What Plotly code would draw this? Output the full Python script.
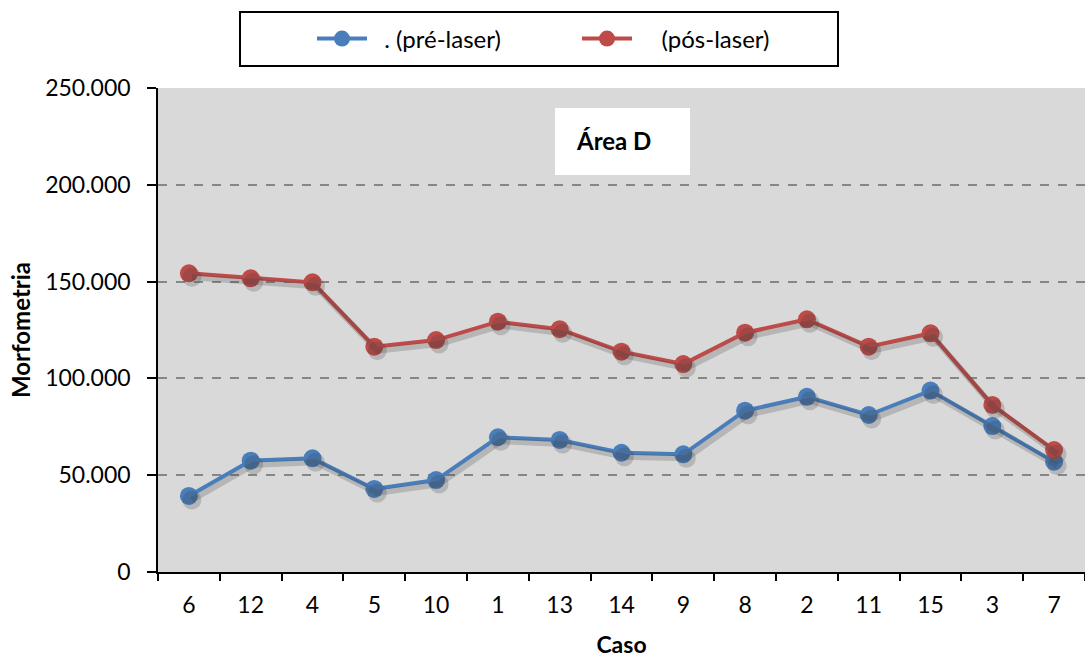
import plotly.graph_objects as go

# Casos em ordem de exibição
casos = ["6", "12", "4", "5", "10", "1", "13", "14", "9", "8", "2", "11", "15", "3", "7"]

# Morfometria da área D antes e depois do laser
pre_laser = [39300, 57500, 58700, 42900, 47500, 69600, 68200, 61600, 60800,
             83300, 90500, 81100, 93700, 75400, 57000]
pos_laser = [154300, 151700, 149600, 116400, 119800, 129300, 125400, 113800, 107400,
             123600, 130500, 116400, 123300, 86300, 63000]

nome_pre = "\u00a0\u00a0. (pré-laser)"
nome_pos = "\u00a0\u00a0\u00a0\u00a0(pós-laser)"

AZUL = "#4a7ebb"
VERMELHO = "#be4b48"
FONTE = "Lato, 'Open Sans', sans-serif"

W, H = 1085, 658
L, R, T, B = 158, 0, 88, 86
pw = W - L - R
ph = H - T - B
Y_MAX = 250000


def px_x(p):
    return (p - L) / pw


def px_y(p):
    return (H - B - p) / ph


fig = go.Figure()

# Sombra suave das séries: mesmo dado num eixo sobreposto com faixa deslocada
dx, dy = 3, 4
sx = dx * len(casos) / pw
sy = dy * Y_MAX / ph
for vals in (pre_laser, pos_laser):
    fig.add_trace(go.Scatter(
        x=casos, y=vals, mode="lines+markers", xaxis="x2", yaxis="y2",
        line=dict(color="rgba(60,60,60,0.22)", width=6),
        marker=dict(size=19, color="rgba(60,60,60,0.22)"),
        showlegend=False, hoverinfo="skip",
    ))

fig.add_trace(go.Scatter(
    x=casos, y=pre_laser, name=nome_pre, mode="lines+markers",
    line=dict(color=AZUL, width=4), marker=dict(size=18, color=AZUL),
))
fig.add_trace(go.Scatter(
    x=casos, y=pos_laser, name=nome_pos, mode="lines+markers",
    line=dict(color=VERMELHO, width=4), marker=dict(size=18, color=VERMELHO),
))

fig.update_layout(
    width=W, height=H,
    margin=dict(l=L, r=R, t=T, b=B),
    paper_bgcolor="white",
    plot_bgcolor="#d9d9d9",
    separators=",.",
    font=dict(family=FONTE, size=23, color="black"),
    showlegend=True,
    legend=dict(
        orientation="h",
        x=px_x(312), y=px_y(39), xanchor="left", yanchor="middle",
        bgcolor="rgba(0,0,0,0)", borderwidth=0,
        font=dict(family=FONTE, size=24),
        entrywidth=200, entrywidthmode="pixels",
        itemwidth=50,
    ),
    xaxis=dict(
        type="category", range=[-0.5, 14.5],
        showline=True, linecolor="black", linewidth=1.5,
        ticks="outside", tickson="boundaries", ticklen=7, tickcolor="black", tickwidth=1.5,
        ticklabelstandoff=12,
        showgrid=False, tickfont=dict(size=23),
        title=dict(text="<b>Caso</b>", font=dict(size=23), standoff=22),
    ),
    yaxis=dict(
        range=[0, Y_MAX], tickvals=[0, 50000, 100000, 150000, 200000, 250000],
        tickformat=",d",
        showline=True, linecolor="black", linewidth=1.5,
        ticks="outside", ticklen=9, tickcolor="black", tickwidth=1.5,
        ticklabelstandoff=12,
        showgrid=True, gridcolor="#868686", gridwidth=1.5, griddash="dash",
        zeroline=False, tickfont=dict(size=23),
        title=dict(text="<b>Morfometria</b>", font=dict(size=24), standoff=8),
    ),
    xaxis2=dict(
        type="category", range=[-0.5 - sx, 14.5 - sx], overlaying="x",
        visible=False,
    ),
    yaxis2=dict(
        range=[sy, Y_MAX + sy], overlaying="y", anchor="x2",
        visible=False,
    ),
    shapes=[
        # moldura da legenda
        dict(type="rect", xref="paper", yref="paper",
             x0=px_x(240), x1=px_x(838), y0=px_y(66), y1=px_y(12),
             line=dict(color="black", width=2), fillcolor="white", layer="below"),
        # caixa do título
        dict(type="rect", xref="paper", yref="paper",
             x0=px_x(555), x1=px_x(690), y0=px_y(175), y1=px_y(108),
             line=dict(width=0), fillcolor="white", layer="above"),
    ],
    annotations=[
        dict(text="<b>Área D</b>", xref="paper", yref="paper",
             x=px_x(613), y=px_y(140), xanchor="center", yanchor="middle",
             showarrow=False, font=dict(family=FONTE, size=24)),
    ],
)

fig.write_html("out.html")
